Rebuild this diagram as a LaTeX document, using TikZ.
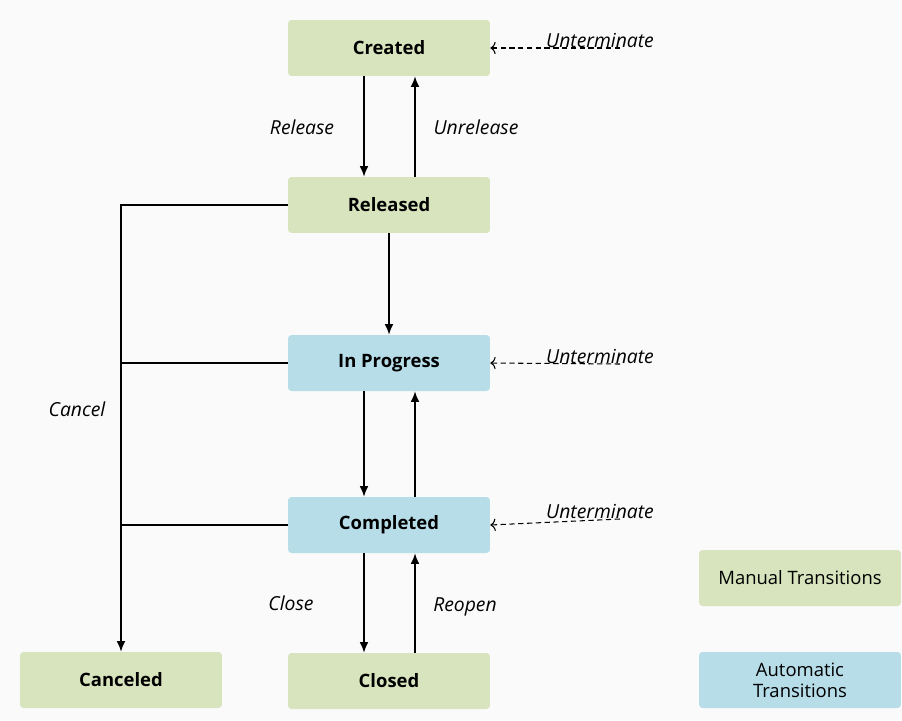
\documentclass[tikz,border=0pt]{standalone}
\usepackage{fontspec}
\setmainfont{Open Sans}
\usepackage{tikz}
\usetikzlibrary{arrows,arrows.meta,shapes,calc}
\definecolor{manualgreen}{HTML}{D7E4BD}
\definecolor{autoblue}{HTML}{B6DDE8}
\definecolor{pagegray}{HTML}{FAFAFA}

\begin{document}
\begin{tikzpicture}[x=0.02cm,y=-0.02cm]
\tikzset{
	state node/.style = {rectangle, rounded corners=2pt, minimum width=4.04cm, minimum height=1.12cm, font=\fontsize{10.5}{12}\selectfont\bfseries},
	manual node/.style = {state node, fill = manualgreen},
	auto node/.style = {state node, fill = autoblue},
	key node/.style = {state node, font=\fontsize{10.5}{12}\selectfont, align=center},
	trans/.style = {thick, -{Latex[length=6pt,width=5pt]}},
	back trans/.style = {semithick, densely dashed, -{To[length=3pt,width=7pt]}},
	trans label/.style = {font=\fontsize{11}{13}\selectfont\itshape, text=black},
}
\fill[pagegray] (0,0) rectangle (902,720);

\node(created)[manual node] at (389,48) {Created};
\node(released)[manual node] at (389,205) {Released};
\node(inprog)[auto node] at (389,363) {In Progress};
\node(completed)[auto node] at (389,525) {Completed};
\node(closed)[manual node] at (389,681) {Closed};
\node(canceled)[manual node] at (121,680) {Canceled};

\node(manualkey)[key node, fill = manualgreen] at (800,578) {Manual Transitions};
\node(autokey)[key node, fill = autoblue] at (800,680) {Automatic\\Transitions};

\foreach \a/\b in {created/released, inprog/completed, completed/closed} {
	\draw[trans] ($(\a.south)+(-25,0)$) -- ($(\b.north)+(-25,0)$);
	\draw[trans] ($(\b.north)+(26,0)$) -- ($(\a.south)+(26,0)$);
}
\draw[trans] (released) -- (inprog);

\draw[trans] (released.west) -| (canceled.north);
\draw[thick] (inprog.west) -- (inprog.west -| canceled.north);
\draw[thick] (completed.west) -- (completed.west -| canceled.north);

\node(release)[trans label] at (302,127) {Release};
\node(unrelease)[trans label] at (476,127) {Unrelease};
\node(cancel)[trans label] at (77,409) {Cancel};
\node(close)[trans label] at (291,603) {Close};
\node(reopen)[trans label] at (465,607) {Reopen};

\foreach \s/\y in {created/40, inprog/356, completed/511} {
	\node(unterm-\s)[trans label] at (600,\y) {Unterminate};
	\coordinate(untermend-\s) at (620,\y+8);
	\draw[back trans] (untermend-\s) -- (\s.east);
}

\end{tikzpicture}
\end{document}
